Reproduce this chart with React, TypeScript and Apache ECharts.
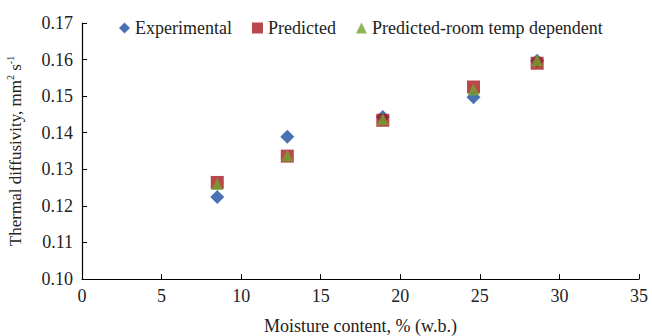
import React, { useEffect, useRef } from "react";
import * as echarts from "echarts";

const moisture = [8.5, 12.9, 18.9, 24.6, 28.6];
const experimental = [0.1224, 0.1389, 0.1443, 0.1497, 0.1597];
const predicted = [0.1264, 0.1336, 0.1434, 0.1525, 0.159];
const predictedRoom = [0.126, 0.1338, 0.1437, 0.1518, 0.1598];
const seriesNames = ["Experimental", "Predicted", "Predicted-room temp dependent"];

const FONT = "Liberation Serif";

export default function App() {
  const ref = useRef<HTMLDivElement>(null);
  useEffect(() => {
    if (!ref.current) return;
    const chart = echarts.init(ref.current, undefined, { renderer: "svg" });
    const mk = (vals: number[]) => moisture.map((x, i) => [x, vals[i]]);
    chart.setOption({
      animation: false,
      textStyle: { fontFamily: FONT, color: "#222" },
      grid: { left: 82, right: 13, top: 23, bottom: 57, outerBoundsMode: "none", containLabel: false },
      legend: {
        top: 14,
        left: 114,
        itemWidth: 11,
        itemHeight: 11,
        itemGap: 20,
        textStyle: { fontFamily: FONT, fontSize: 18, color: "#222" },
        data: [
          { name: seriesNames[0], icon: "diamond" },
          { name: seriesNames[1], icon: "rect" },
          { name: seriesNames[2], icon: "triangle" },
        ],
      },
      xAxis: {
        type: "value",
        min: 0,
        max: 35,
        interval: 5,
        name: "Moisture content, % (w.b.)",
        nameLocation: "middle",
        nameGap: 38,
        nameTextStyle: { fontFamily: FONT, fontSize: 18, color: "#222" },
        axisLine: { lineStyle: { color: "#000", width: 1.2 } },
        axisTick: { inside: true, length: 5, lineStyle: { color: "#000" } },
        axisLabel: { fontFamily: FONT, fontSize: 18, color: "#222", margin: 8 },
        splitLine: { show: false },
      },
      yAxis: {
        type: "value",
        min: 0.1,
        max: 0.17,
        interval: 0.01,
        name: "{a|Thermal diffusivity, mm}{s|2}{a| s}{s|-1}",
        nameLocation: "middle",
        nameGap: 57,
        nameTextStyle: {
          fontFamily: FONT,
          fontSize: 17,
          color: "#222",
          rich: {
            a: { fontFamily: FONT, fontSize: 17, color: "#222", lineHeight: 20 },
            s: { fontFamily: FONT, fontSize: 10, color: "#222", lineHeight: 20, verticalAlign: "top", padding: [0, 0, 9, 0] },
          },
        },
        axisLine: { show: true, lineStyle: { color: "#000", width: 1.2 } },
        axisTick: { show: true, inside: true, length: 5, lineStyle: { color: "#000" } },
        axisLabel: {
          fontFamily: FONT,
          fontSize: 18,
          color: "#222",
          margin: 9,
          formatter: (v: number) => v.toFixed(2),
        },
        splitLine: { show: false },
      },
      series: [
        {
          name: seriesNames[0],
          type: "scatter",
          symbol: "diamond",
          symbolSize: 14,
          itemStyle: { color: "#1c4fa0" },
          data: mk(experimental),
          z: 2,
        },
        {
          name: seriesNames[1],
          type: "scatter",
          symbol: "rect",
          symbolSize: 13,
          itemStyle: { color: "#a8191e" },
          data: mk(predicted),
          z: 3,
        },
        {
          name: seriesNames[2],
          type: "scatter",
          symbol: "triangle",
          symbolSize: 12,
          itemStyle: { color: "#72a32e" },
          data: mk(predictedRoom),
          z: 4,
        },
      ],
    });
    return () => chart.dispose();
  }, []);
  return <div ref={ref} style={{ width: 652, height: 336, position: "absolute", left: 0, top: 0 }} />;
}
